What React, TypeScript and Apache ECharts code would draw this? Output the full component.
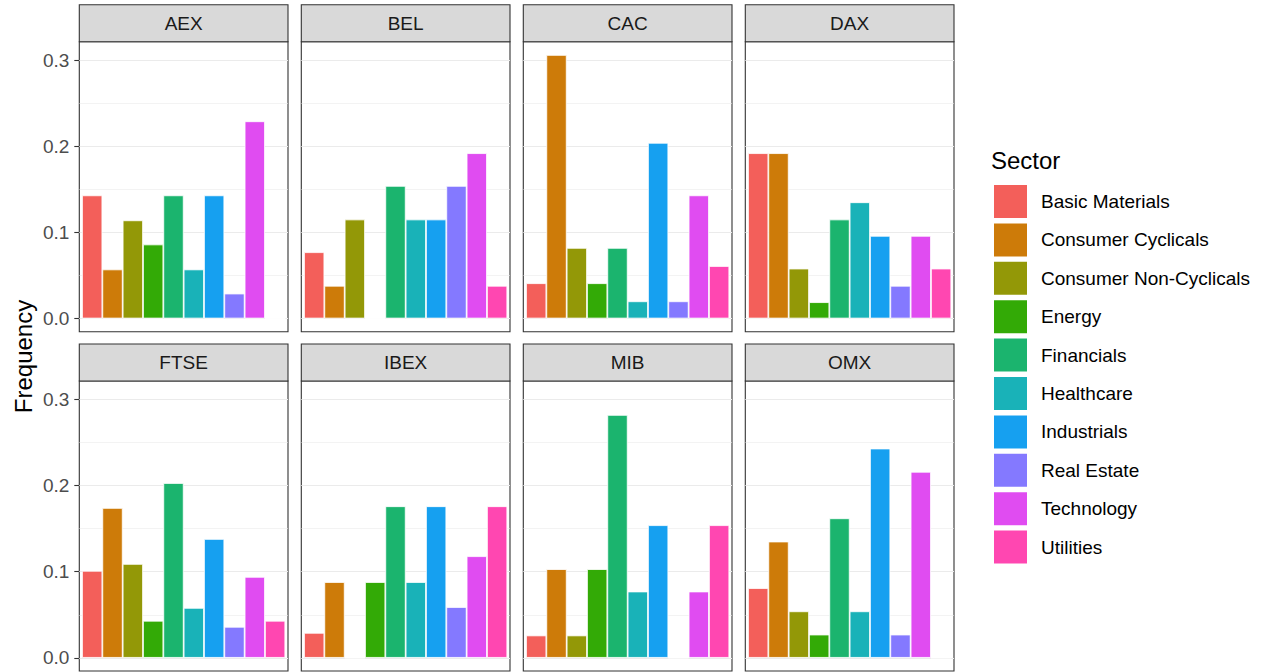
import React, { useEffect, useRef } from "react";
import * as echarts from "echarts";

// Sector categories and their fill colours
const sectors = [
  "Basic Materials",
  "Consumer Cyclicals",
  "Consumer Non-Cyclicals",
  "Energy",
  "Financials",
  "Healthcare",
  "Industrials",
  "Real Estate",
  "Technology",
  "Utilities",
];
const sectorColors = [
  "#F35F5A",
  "#CD7B09",
  "#939807",
  "#33AA06",
  "#1BB46E",
  "#19B2B8",
  "#16A0F0",
  "#8479FF",
  "#E04CF1",
  "#FF47B1",
];

// Index names (one facet each)
const indexNames = ["AEX", "BEL", "CAC", "DAX", "FTSE", "IBEX", "MIB", "OMX"];

// Share of index constituents per sector (same order as `sectors`)
const aex = [0.143, 0.057, 0.114, 0.086, 0.143, 0.057, 0.143, 0.029, 0.229, 0];
const bel = [0.077, 0.038, 0.115, 0, 0.154, 0.115, 0.115, 0.154, 0.192, 0.038];
const cac = [0.041, 0.306, 0.082, 0.041, 0.082, 0.02, 0.204, 0.02, 0.143, 0.061];
const dax = [0.192, 0.192, 0.058, 0.019, 0.115, 0.135, 0.096, 0.038, 0.096, 0.058];
const ftse = [0.101, 0.174, 0.109, 0.043, 0.203, 0.058, 0.138, 0.036, 0.094, 0.043];
const ibex = [0.029, 0.088, 0, 0.088, 0.176, 0.088, 0.176, 0.059, 0.118, 0.176];
const mib = [0.026, 0.103, 0.026, 0.103, 0.282, 0.077, 0.154, 0, 0.077, 0.154];
const omx = [0.081, 0.135, 0.054, 0.027, 0.162, 0.054, 0.243, 0.027, 0.216, 0];
const indexValues = [aex, bel, cac, dax, ftse, ibex, mib, omx];

// Y axis ticks and grid lines
const yTicks = [0, 0.1, 0.2, 0.3];
const yMajorLines = [0, 0.1, 0.2, 0.3];
const yMinorLines = [0.05, 0.15, 0.25];

const FONT = '"Liberation Sans", Arial, Helvetica, sans-serif';
const PANEL_LEFT = 79.3;
const PANEL_STEP = 222;
const PANEL_W = 208.7;
const ROW_TOP = [41.7, 381];
const PANEL_H = 290;
const STRIP_H = 37;
const Y_MIN = -0.0153;
const Y_MAX = 0.3214;

function buildOption() {
  const grids: any[] = [];
  const xAxes: any[] = [];
  const yAxes: any[] = [];
  const series: any[] = [];
  const graphics: any[] = [];

  indexNames.forEach((name, p) => {
    const col = p % 4;
    const row = Math.floor(p / 4);
    const left = PANEL_LEFT + col * PANEL_STEP;
    const top = ROW_TOP[row];

    grids.push({
      left,
      top,
      width: PANEL_W,
      height: PANEL_H,
      show: true,
      borderColor: "#333333",
      borderWidth: 1.1,
      backgroundColor: "transparent",
      containLabel: false,
    });

    xAxes.push({
      type: "category",
      gridIndex: p,
      data: [""],
      boundaryGap: true,
      axisLine: { show: false },
      axisTick: { show: false },
      axisLabel: { show: false },
      splitLine: { show: false },
    });

    const firstCol = col === 0;
    yAxes.push({
      type: "value",
      gridIndex: p,
      min: Y_MIN,
      max: Y_MAX,
      axisLine: { show: false },
      splitLine: { show: false },
      axisTick: {
        show: firstCol,
        customValues: yTicks,
        length: 5,
        lineStyle: { color: "#333333", width: 1.1 },
      },
      axisLabel: {
        show: firstCol,
        customValues: yTicks,
        formatter: (v: number) => v.toFixed(1),
        color: "#4D4D4D",
        fontSize: 19,
        fontFamily: FONT,
        margin: 10,
      },
    });

    sectors.forEach((sector, s) => {
      const item: any = {
        type: "bar",
        name: sector,
        xAxisIndex: p,
        yAxisIndex: p,
        data: [indexValues[p][s]],
        barGap: "0%",
        barCategoryGap: "2.6%",
        itemStyle: {
          color: sectorColors[s],
          borderColor: "#FFFFFF",
          borderWidth: 0.8,
        },
        emphasis: { disabled: true },
        z: 2,
      };
      if (s === 0) {
        item.markLine = {
          silent: true,
          symbol: "none",
          z: 1,
          label: { show: false },
          emphasis: { disabled: true },
          data: [
            ...yMajorLines.map((v) => ({
              yAxis: v,
              lineStyle: { color: "#EBEBEB", width: 1.1, type: "solid" },
            })),
            ...yMinorLines.map((v) => ({
              yAxis: v,
              lineStyle: { color: "#EBEBEB", width: 0.6, type: "solid" },
            })),
          ],
        };
      }
      series.push(item);
    });

    // facet strip
    const stripTop = top - STRIP_H;
    graphics.push({
      type: "rect",
      shape: { x: left, y: stripTop, width: PANEL_W, height: STRIP_H },
      style: { fill: "#D9D9D9", stroke: "#333333", lineWidth: 1.1 },
      silent: true,
    });
    graphics.push({
      type: "text",
      x: left + PANEL_W / 2,
      y: stripTop + STRIP_H / 2,
      style: {
        text: name,
        fill: "#1A1A1A",
        fontSize: 19,
        fontFamily: FONT,
        align: "center",
        verticalAlign: "middle",
      },
      silent: true,
    });
  });

  graphics.push({
    type: "text",
    x: 23,
    y: 356.5,
    rotation: Math.PI / 2,
    style: {
      text: "Frequency",
      fill: "#000000",
      fontSize: 24,
      fontFamily: FONT,
      align: "center",
      verticalAlign: "middle",
    },
    silent: true,
  });
  graphics.push({
    type: "text",
    x: 991,
    y: 160,
    style: {
      text: "Sector",
      fill: "#000000",
      fontSize: 24,
      fontFamily: FONT,
      align: "left",
      verticalAlign: "middle",
    },
    silent: true,
  });

  return {
    animation: false,
    backgroundColor: "#FFFFFF",
    grid: grids,
    xAxis: xAxes,
    yAxis: yAxes,
    series,
    legend: {
      data: sectors,
      orient: "vertical",
      left: 992,
      top: 183,
      padding: 0,
      itemWidth: 35,
      itemHeight: 35,
      itemGap: 1.4,
      icon: "rect",
      selectedMode: false,
      textStyle: {
        fontSize: 19,
        color: "#000000",
        fontFamily: FONT,
        padding: [0, 0, 0, 8],
      },
    },
    graphic: graphics,
  };
}

export default function App() {
  const ref = useRef<HTMLDivElement | null>(null);

  useEffect(() => {
    if (!ref.current) return;
    const chart = echarts.init(ref.current, undefined, { renderer: "svg" });
    chart.setOption(buildOption() as any);
    return () => {
      chart.dispose();
    };
  }, []);

  return (
    <div
      ref={ref}
      style={{
        position: "fixed",
        left: 0,
        top: 0,
        width: 1266,
        height: 672,
        background: "#FFFFFF",
      }}
    />
  );
}
